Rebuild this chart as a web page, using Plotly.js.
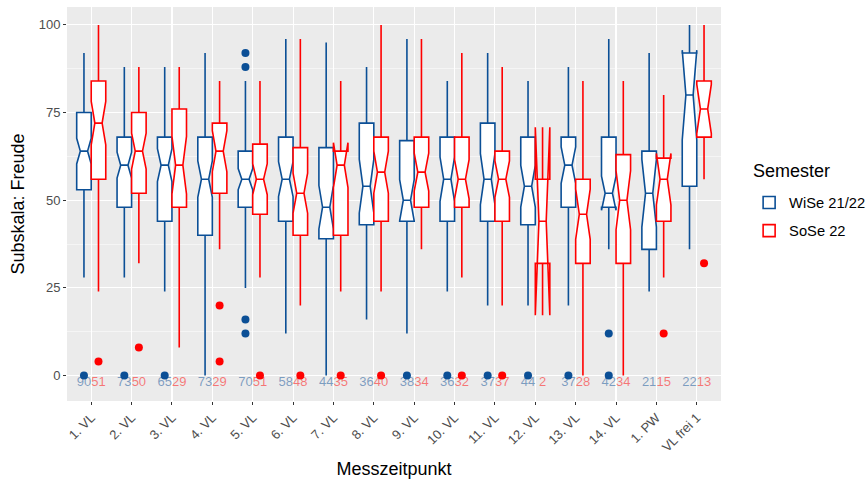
<!DOCTYPE html>
<html>
<head>
<meta charset="utf-8">
<script src="https://cdn.plot.ly/plotly-3.0.1.min.js"></script>
<style>
  html, body { margin: 0; padding: 0; background: #ffffff; }
  #chart { width: 866px; height: 481px; }
</style>
</head>
<body>
<div id="chart"></div>
<script>
// Messzeitpunkte (x categories)
const categories = ["1. VL", "2. VL", "3. VL", "4. VL", "5. VL", "6. VL", "7. VL", "8. VL",
                    "9. VL", "10. VL", "11. VL", "12. VL", "13. VL", "14. VL", "1. PW", "VL frei 1"];

// WiSe 21/22: n, quartiles, whisker ends, outliers
const wiseN   = [90, 73, 65, 73, 70, 58, 44, 36, 38, 36, 37, 44, 37, 42, 21, 22];
const wiseQ3  = [75, 68, 68, 68, 64, 68, 65, 72, 67, 68, 72, 68, 68, 68, 64, 92];
const wiseMed = [64, 60, 60, 56, 56, 56, 48, 54, 50, 56, 56, 54, 60, 52, 52, 80];
const wiseQ1  = [53, 48, 44, 40, 48, 44, 39, 43, 44, 44, 44, 43, 48, 48, 36, 54];
const wiseHi  = [92, 88, 88, 92, 84, 96, 95, 88, 96, 84, 92, 84, 88, 96, 92, 100];
const wiseLo  = [28, 28, 24, 0, 25, 12, 0, 16, 12, 24, 20, 20, 20, 36, 24, 36];
const wiseOut = [[0], [0], [0], [], [92, 88, 16, 12], [], [], [], [0], [0], [0], [0], [0], [12, 0], [], []];

// SoSe 22
const soseN   = [51, 50, 29, 29, 51, 48, 35, 40, 34, 32, 37, 2, 28, 34, 15, 13];
const soseQ3  = [84, 75, 76, 72, 66, 65, 64, 68, 68, 68, 64, 56, 56, 63, 62, 84];
const soseMed = [72, 64, 60, 64, 56, 52, 60, 58, 58, 56, 56, 44, 46, 50, 56, 76];
const soseQ1  = [56, 52, 48, 52, 46, 40, 40, 44, 48, 48, 44, 32, 32, 32, 44, 68];
const soseHi  = [100, 88, 88, 84, 84, 96, 84, 100, 96, 92, 88, 68, 84, 84, 80, 100];
const soseLo  = [24, 32, 8, 36, 28, 20, 24, 24, 36, 28, 20, 20, 0, 0, 28, 56];
const soseOut = [[4], [8], [], [20, 4], [0], [0], [0], [0], [], [0], [0], [], [], [], [12], [32]];

const BLUE = "#0b4f96";
const RED = "#ff0000";
const DODGE = 0.18;     // half distance between the two boxes of a category
const BOX_W = 0.36;     // box width in category units
const LABEL_Y = -2;     // height of the n labels

// notch half-width as in R's boxplot: 1.58 * IQR / sqrt(n)
const notch = (q1, q3, n) => q1.map((v, i) => 1.58 * (q3[i] - v) / Math.sqrt(n[i]));

function boxTrace(name, color, shift, q1, med, q3, lo, hi, n) {
  return {
    type: "box",
    name: name,
    legendgroup: name,
    x: categories.map((_, i) => i + shift),
    q1: q1, median: med, q3: q3,
    lowerfence: lo, upperfence: hi,
    notchspan: notch(q1, q3, n),
    notched: true,
    notchwidth: 0.25,
    width: BOX_W,
    whiskerwidth: 0,
    boxpoints: false,
    fillcolor: "#ffffff",
    line: { color: color, width: 1.6 },
    hoverinfo: "skip"
  };
}

function outlierTrace(name, color, shift, out) {
  const xs = [], ys = [];
  out.forEach((vals, i) => vals.forEach(v => { xs.push(i + shift); ys.push(v); }));
  return {
    type: "scatter", mode: "markers", x: xs, y: ys,
    legendgroup: name, showlegend: false,
    marker: { color: color, size: 8 },
    hoverinfo: "skip"
  };
}

function countTrace(name, color, shift, n) {
  return {
    type: "scatter", mode: "text",
    x: categories.map((_, i) => i + shift),
    y: categories.map(() => LABEL_Y),
    text: n.map(String),
    textposition: "middle center",
    textfont: { family: "Liberation Sans, Arial, sans-serif", size: 13, color: color },
    legendgroup: name, showlegend: false,
    hoverinfo: "skip"
  };
}

const data = [
  boxTrace("WiSe 21/22", BLUE, -DODGE, wiseQ1, wiseMed, wiseQ3, wiseLo, wiseHi, wiseN),
  boxTrace("SoSe 22", RED, DODGE, soseQ1, soseMed, soseQ3, soseLo, soseHi, soseN),
  outlierTrace("WiSe 21/22", BLUE, -DODGE, wiseOut),
  outlierTrace("SoSe 22", RED, DODGE, soseOut),
  countTrace("WiSe 21/22", "rgba(11,79,150,0.5)", -DODGE, wiseN),
  countTrace("SoSe 22", "rgba(255,0,0,0.5)", DODGE, soseN)
];

const font = "Liberation Sans, Arial, sans-serif";

const layout = {
  width: 866, height: 481,
  margin: { l: 67, r: 145, t: 7, b: 80, autoexpand: false },
  paper_bgcolor: "#ffffff",
  plot_bgcolor: "#ebebeb",
  font: { family: font, color: "#000000" },
  boxmode: "overlay",
  showlegend: true,
  legend: {
    font: { size: 14.7, color: "#000000" },
    x: 1.043, xanchor: "left", y: 0.467, yanchor: "middle",
    bgcolor: "rgba(0,0,0,0)",
    tracegroupgap: 6
  },
  annotations: [{
    text: "Semester", showarrow: false,
    xref: "paper", yref: "paper",
    x: 1.046, xanchor: "left", y: 0.585, yanchor: "middle",
    font: { size: 18, color: "#000000" }
  }],
  xaxis: {
    range: [-0.6, 15.6],
    tickmode: "array",
    tickvals: categories.map((_, i) => i),
    ticktext: categories,
    tickangle: -45,
    tickfont: { size: 13, color: "#4d4d4d" },
    ticks: "outside", ticklen: 3, tickcolor: "#333333", tickwidth: 1,
    showgrid: true, gridcolor: "#ffffff", gridwidth: 1.1,
    zeroline: false, showline: false,
    title: { text: "Messzeitpunkt", font: { size: 18, color: "#000000" }, standoff: 8 }
  },
  yaxis: {
    range: [-7.25, 105.1],
    tickmode: "array",
    tickvals: [0, 25, 50, 75, 100],
    ticktext: ["0", "25", "50", "75", "100"],
    tickfont: { size: 13, color: "#4d4d4d" },
    ticks: "outside", ticklen: 3, tickcolor: "#333333", tickwidth: 1,
    showgrid: true, gridcolor: "#ffffff", gridwidth: 1.1,
    minor: { tickvals: [12.5, 37.5, 62.5, 87.5], showgrid: true, gridcolor: "#ffffff", gridwidth: 0.5, ticks: "" },
    zeroline: false, showline: false,
    title: { text: "Subskala: Freude", font: { size: 18, color: "#000000" }, standoff: 9 }
  }
};

Plotly.newPlot("chart", data, layout, { staticPlot: true, displayModeBar: false });
</script>
</body>
</html>
